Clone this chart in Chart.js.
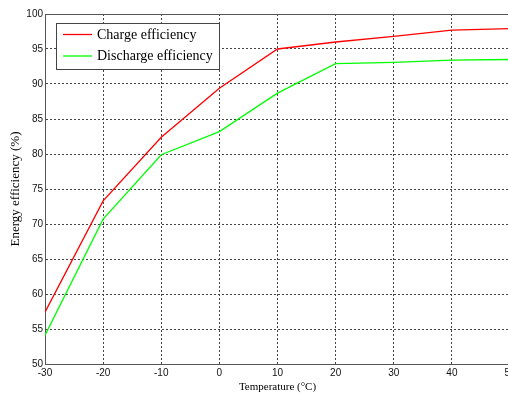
<!DOCTYPE html>
<html>
<head>
<meta charset="utf-8">
<script src="https://cdn.jsdelivr.net/npm/chart.js@4"></script>
<style>
  html, body { margin: 0; padding: 0; background: #fff; overflow: hidden; }
  #wrap { width: 508px; height: 396px; overflow: hidden; position: relative; }
  canvas { display: block; }
</style>
</head>
<body>
<div id="wrap"><canvas id="c" width="540" height="396" style="width:540px;height:396px"></canvas></div>
<script>
const temperatures = [-30, -20, -10, 0, 10, 20, 30, 40, 50];
const chargeEfficiency = [57.4, 73.3, 82.4, 89.4, 95.0, 96.0, 96.8, 97.7, 97.9];
const dischargeEfficiency = [54.1, 70.7, 79.9, 83.2, 88.7, 92.9, 93.1, 93.4, 93.5];
const seriesLabels = ['Charge efficiency', 'Discharge efficiency'];
const xTitle = 'Temperature (\u00B0C)';
const yTitle = 'Energy efficiency (%)';

const toPoints = (ys) => temperatures.map((t, i) => ({x: t, y: ys[i]}));

const boxPlugin = {
  id: 'boxAndLegend',
  afterDraw(chart) {
    const {ctx, chartArea: a} = chart;
    ctx.save();
    ctx.strokeStyle = '#555';
    ctx.lineWidth = 1;
    ctx.beginPath();
    ctx.moveTo(a.left, a.top + 0.5);
    ctx.lineTo(a.right, a.top + 0.5);
    ctx.stroke();
    const bx = 56, by = 23, bw = 163, bh = 46;
    ctx.fillStyle = '#fff';
    ctx.fillRect(bx, by, bw, bh);
    ctx.strokeStyle = '#444';
    ctx.strokeRect(bx + 0.5, by + 0.5, bw, bh);
    ctx.font = '14px "Liberation Serif", "Times New Roman", serif';
    ctx.textBaseline = 'middle';
    ctx.textAlign = 'left';
    const rows = [34.5, 56];
    chart.data.datasets.forEach((ds, i) => {
      const y = rows[i];
      ctx.strokeStyle = ds.borderColor;
      ctx.lineWidth = 1.3;
      ctx.beginPath();
      ctx.moveTo(63, y);
      ctx.lineTo(92, y);
      ctx.stroke();
      ctx.fillStyle = '#000';
      ctx.fillText(ds.label, 97, y + 0.5);
    });
    ctx.restore();
  }
};

new Chart(document.getElementById('c'), {
  type: 'line',
  data: {
    datasets: [
      {label: seriesLabels[0], data: toPoints(chargeEfficiency), borderColor: '#ff0000', backgroundColor: '#ff0000', borderWidth: 1.3, pointRadius: 0, tension: 0, fill: false},
      {label: seriesLabels[1], data: toPoints(dischargeEfficiency), borderColor: '#00ff00', backgroundColor: '#00ff00', borderWidth: 1.3, pointRadius: 0, tension: 0, fill: false}
    ]
  },
  options: {
    responsive: false,
    animation: false,
    devicePixelRatio: 1,
    layout: {padding: {top: 14, right: 30, left: 0, bottom: 0}},
    plugins: {legend: {display: false}, tooltip: {enabled: false}},
    scales: {
      x: {
        type: 'linear',
        min: -30, max: 50,
        ticks: {stepSize: 10, color: '#111', padding: 3, font: {family: '"Liberation Sans", Arial, sans-serif', size: 10}},
        grid: {color: '#444', lineWidth: 1, drawTicks: false},
        border: {display: true, color: '#555', width: 1, dash: [2, 2]},
        title: {display: true, text: xTitle, color: '#000', padding: {top: 0, bottom: 2}, font: {family: '"Liberation Serif", "Times New Roman", serif', size: 11}},
        afterFit(scale) { scale.height = 32; }
      },
      y: {
        min: 50, max: 100,
        ticks: {stepSize: 5, color: '#111', padding: 2, font: {family: '"Liberation Sans", Arial, sans-serif', size: 10}},
        grid: {color: '#444', lineWidth: 1, drawTicks: false},
        border: {display: true, color: '#555', width: 1, dash: [2, 2]},
        title: {display: true, text: yTitle, color: '#000', padding: {top: 8, bottom: 0}, font: {family: '"Liberation Serif", "Times New Roman", serif', size: 13}},
        afterFit(scale) { scale.width = 45; }
      }
    }
  },
  plugins: [boxPlugin]
});
</script>
</body>
</html>
